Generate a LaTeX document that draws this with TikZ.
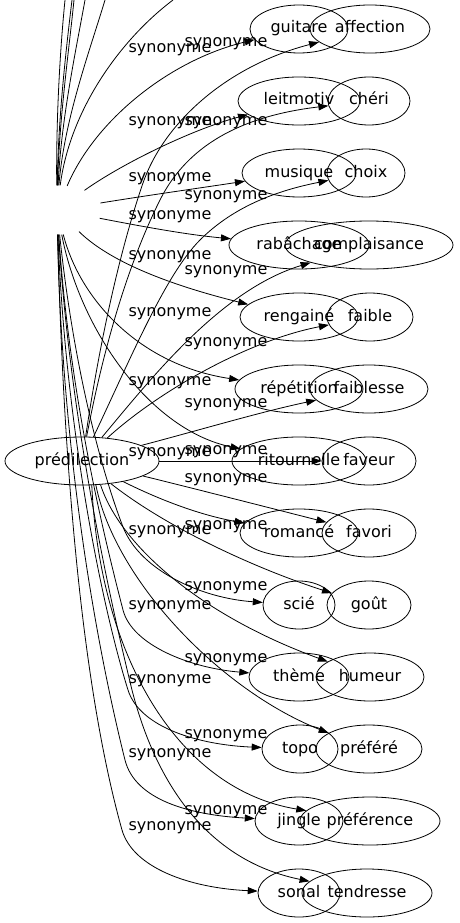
\documentclass[tikz,border=0pt]{standalone}
\usepackage{fontspec}
\setmainfont{DejaVu Sans}
\usetikzlibrary{shapes.geometric,arrows.meta}
\begin{document}
\begin{tikzpicture}[x=1pt,y=-1pt,
  nd/.style={ellipse, draw, line width=0.8pt, inner sep=0pt, minimum height=48pt,
    font=\fontsize{16pt}{19pt}\selectfont, text height=11.5pt, text depth=3.5pt},
  hid/.style={ellipse, draw=none, inner sep=0pt, minimum width=90pt, minimum height=49pt},
  lb/.style={inner sep=0pt, font=\fontsize{16pt}{19pt}\selectfont, text height=11.5pt, text depth=3.5pt},
  ed/.style={draw, line width=0.8pt, -{Triangle[length=10pt,width=7pt]}},
  ln/.style={draw, line width=0.8pt}]
\useasboundingbox (0,0) rectangle (459,923);
\clip (0,0) rectangle (459,923);

% hidden source and main node
\node[hid] (H) at (57,210) {};
\node[nd, minimum width=154pt] (P) at (82,461) {prédilection};

% left column
\node[nd, minimum width=98pt]  (guitare)     at (299,29)  {guitare};
\node[nd, minimum width=122pt] (leitmotiv)   at (299,101) {leitmotiv};
\node[nd, minimum width=114pt] (musique)     at (299,173) {musique};
\node[nd, minimum width=140pt] (rabachage)   at (299,245) {rabâchage};
\node[nd, minimum width=118pt] (rengaine)    at (299,317) {rengainé};
\node[nd, minimum width=128pt] (repetition)  at (299,389) {répétition};
\node[nd, minimum width=134pt] (ritournelle) at (299,461) {ritournelle};
\node[nd, minimum width=118pt] (romance)     at (299,533) {romancé};
\node[nd, minimum width=72pt]  (scie)        at (299,605) {scié};
\node[nd, minimum width=100pt] (theme)       at (299,677) {thème};
\node[nd, minimum width=76pt]  (topo)        at (300,749) {topo};
\node[nd, minimum width=88pt]  (jingle)      at (299,821) {jingle};
\node[nd, minimum width=82pt]  (sonal)       at (299,893) {sonal};

% right column
\node[nd, minimum width=120pt] (affection)    at (370,29)  {affection};
\node[nd, minimum width=82pt]  (cheri)        at (369,101) {chéri};
\node[nd, minimum width=78pt]  (choix)        at (366,173) {choix};
\node[nd, minimum width=168pt] (complaisance) at (369,245) {complaisance};
\node[nd, minimum width=86pt]  (faible)       at (370,317) {faible};
\node[nd, minimum width=118pt] (faiblesse)    at (369,389) {faiblesse};
\node[nd, minimum width=94pt]  (faveur)       at (369,461) {faveur};
\node[nd, minimum width=94pt]  (favori)       at (369,533) {favori};
\node[nd, minimum width=84pt]  (gout)         at (369,605) {goût};
\node[nd, minimum width=108pt] (humeur)       at (370,677) {humeur};
\node[nd, minimum width=106pt] (prefere)      at (369,749) {préféré};
\node[nd, minimum width=140pt] (preference)   at (370,821) {préférence};
\node[nd, minimum width=130pt] (tendresse)    at (367,893) {tendresse};

% free ends above the picture
\coordinate (t1) at (65,0);
\coordinate (t2) at (72,0);
\coordinate (t3) at (74,0);
\coordinate (t4) at (85,0);
\coordinate (t5) at (105,0);
\coordinate (t6) at (173,0);

\draw[ln] (H) .. controls (56,120) and (60,50) .. (t1);
\draw[ln] (H) .. controls (58,120) and (66,50) .. (t2);
\draw[ln] (H) .. controls (59,120) and (69,50) .. (t3);
\draw[ln] (H) .. controls (61,120) and (76,50) .. (t4);
\draw[ln] (H) .. controls (64,120) and (90,50) .. (t5);
\draw[ln] (H) .. controls (70,110) and (120,40) .. (t6);

% edges from the hidden source
\draw[ed] (H) .. controls (95,120) and (170,60) .. (guitare);
\draw[ed] (H) .. controls (120,165) and (190,130) .. (leitmotiv);
\draw[ed] (H) .. controls (150,195) and (200,188) .. (musique);
\draw[ed] (H) .. controls (150,228) and (190,235) .. (rabachage);
\draw[ed] (H) .. controls (110,262) and (170,285) .. (rengaine);
\draw[ed] (H) .. controls (80,300) and (140,365) .. (repetition);
\draw[ed] (H) .. controls (80,330) and (150,430) .. (ritournelle);
\draw[ed] (H) .. controls (75,380) and (105,480) .. (123,527) .. controls (140,570) and (200,598) .. (scie);
\draw[ed] (H) .. controls (70,400) and (105,540) .. (123,610) .. controls (132,645) and (190,668) .. (theme);
\draw[ed] (H) .. controls (65,420) and (100,600) .. (128,690) .. controls (140,728) and (200,745) .. (topo);
\draw[ed] (H) .. controls (70,420) and (110,600) .. (132,690) .. controls (155,780) and (205,860) .. (tendresse);
\draw[ed] (H) .. controls (62,450) and (95,640) .. (125,760) .. controls (135,800) and (190,815) .. (jingle);
\draw[ed] (H) .. controls (63,450) and (80,680) .. (122,830) .. controls (133,868) and (190,888) .. (sonal);

% edges from prédilection
\draw[ed] (P) .. controls (100,340) and (120,250) .. (143,183) .. controls (165,120) and (230,65) .. (affection);
\draw[ed] (P) .. controls (105,340) and (130,260) .. (160,200) .. controls (190,140) and (250,115) .. (cheri);
\draw[ed] (P) .. controls (130,360) and (165,275) .. (200,240) .. controls (235,205) and (280,190) .. (choix);
\draw[ed] (P) .. controls (150,380) and (220,290) .. (complaisance);
\draw[ed] (P) .. controls (160,390) and (250,340) .. (faible);
\draw[ed] (P) .. controls (200,430) and (260,412) .. (faiblesse);
\draw[ed] (P) -- (faveur);
\draw[ed] (P) .. controls (200,490) and (270,508) .. (favori);
\draw[ed] (P) .. controls (160,500) and (200,515) .. (romance);
\draw[ed] (P) .. controls (170,530) and (260,570) .. (gout);
\draw[ed] (P.-52) .. controls (120,545) and (200,615) .. (humeur);
\draw[ed] (P.-60) .. controls (115,580) and (220,690) .. (prefere);
\draw[ed] (P.-68) .. controls (100,660) and (180,790) .. (preference);

% labels, left set
\node[lb] (a1)  at (170,49)  {synonyme};
\node[lb] (a2)  at (170,121) {synonyme};
\node[lb] (a3)  at (170,177) {synonyme};
\node[lb] (a4)  at (170,215) {synonyme};
\node[lb] (a5)  at (170,255) {synonyme};
\node[lb] (a6)  at (170,312) {synonyme};
\node[lb] (a7)  at (170,381) {synonyme};
\node[lb] (a8)  at (170,452) {synonyme};
\node[lb] (a9)  at (170,530) {synonyme};
\node[lb] (a10) at (170,605) {synonyme};
\node[lb] (a11) at (170,679) {synonyme};
\node[lb] (a12) at (170,753) {synonyme};
\node[lb] (a13) at (170,826) {synonyme};
% labels, right set
\node[lb] (b1)  at (226,43)  {synonyme};
\node[lb] (b2)  at (226,121) {synonyme};
\node[lb] (b3)  at (226,195) {synonyme};
\node[lb] (b4)  at (226,270) {synonyme};
\node[lb] (b5)  at (226,342) {synonyme};
\node[lb] (b6)  at (226,403) {synonyme};
\node[lb] (b7)  at (226,450) {synonyme};
\node[lb] (b8)  at (226,478) {synonyme};
\node[lb] (b9)  at (226,525) {synonyme};
\node[lb] (b10) at (226,586) {synonyme};
\node[lb] (b11) at (226,658) {synonyme};
\node[lb] (b12) at (226,734) {synonyme};
\node[lb] (b13) at (226,810) {synonyme};
\end{tikzpicture}
\end{document}
